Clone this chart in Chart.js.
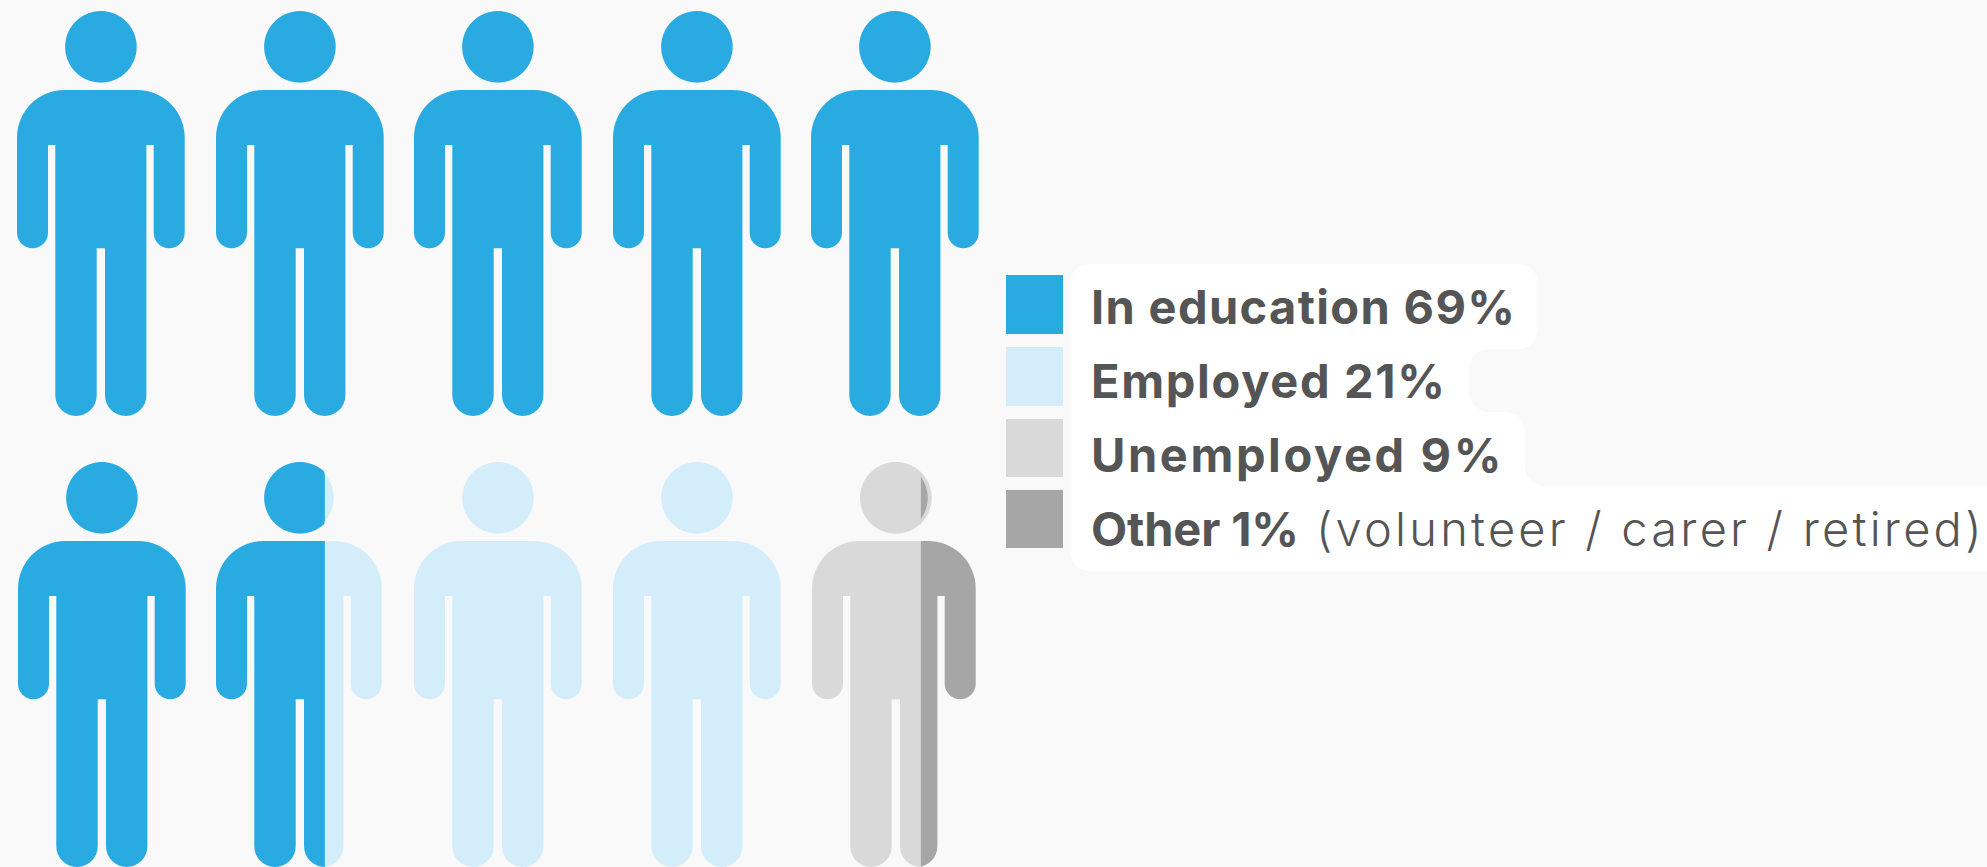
<!DOCTYPE html>
<html>
<head>
<meta charset="utf-8">
<title>What young people are doing now</title>
<script src="https://cdn.jsdelivr.net/npm/chart.js@4"></script>
<style>
  html, body { margin: 0; padding: 0; width: 1987px; height: 867px; overflow: hidden; background: #f9f9f9; }
  canvas { position: absolute; }
  svg { position: absolute; left: 0; top: 0; }
  text { font-family: Inter, sans-serif; font-size: 47px; fill: #555555; }
</style>
</head>
<body>
<svg id="legend" width="1987" height="867"></svg>
<script>
// one entry per figure, each figure stands for 10%
let education  = [1, 1, 1, 1, 1, 1, 0.9, 0, 0, 0]
let employed   = [0, 0, 0, 0, 0, 0, 0.1, 1, 1, 0]
let unemployed = [0, 0, 0, 0, 0, 0, 0, 0, 0, 0.9]
let other      = [0, 0, 0, 0, 0, 0, 0, 0, 0, 0.1]

let seriesNames = ["In education", "Employed", "Unemployed", "Other"]
let colours = ["#29abe2", "#d3eefa", "#d9d9d9", "#a6a6a6"]

// left edge of each figure and top of each row
let figureLeft = [17, 216, 414, 613, 811, 18, 216, 414, 613, 812]
let rowTop = [10, 461]

// the part right of the split sits slightly left on the two split figures
let overlayShift = [0, 0, 0, 0, 0, 0, -2, 0, 0, -4]

const pad = 6
const canvasW = 180
const canvasH = 407
const dpr = 2
const xMin = 0.725   // the icon only takes the right hand end of its 0-1 axis

function figurePath(ctx, ox, oy) {
    // head
    ctx.moveTo(ox + 83.9 + 35.8, oy + 35.8)
    ctx.arc(ox + 83.9, oy + 35.8, 35.8, 0, Math.PI * 2)
    ctx.closePath()
    // body, clockwise from the left shoulder
    ctx.moveTo(ox, oy + 126.5)
    ctx.arc(ox + 47.5, oy + 126.5, 47.5, Math.PI, Math.PI * 1.5)
    ctx.lineTo(ox + 120.2, oy + 79)
    ctx.arc(ox + 120.2, oy + 126.5, 47.5, Math.PI * 1.5, 0)
    ctx.lineTo(ox + 167.7, oy + 221.8)
    ctx.arc(ox + 152.2, oy + 221.8, 15.5, 0, Math.PI)
    ctx.lineTo(ox + 136.7, oy + 134)
    ctx.lineTo(ox + 129.4, oy + 134)
    ctx.lineTo(ox + 129.4, oy + 384.3)
    ctx.arc(ox + 108.7, oy + 384.3, 20.7, 0, Math.PI)
    ctx.lineTo(ox + 88, oy + 237.3)
    ctx.lineTo(ox + 79.7, oy + 237.3)
    ctx.lineTo(ox + 79.7, oy + 384.3)
    ctx.arc(ox + 59, oy + 384.3, 20.7, 0, Math.PI)
    ctx.lineTo(ox + 38.3, oy + 134)
    ctx.lineTo(ox + 31, oy + 134)
    ctx.lineTo(ox + 31, oy + 221.8)
    ctx.arc(ox + 15.5, oy + 221.8, 15.5, 0, Math.PI)
    ctx.closePath()
}

// keeps the bars only where the figure is, using a mask canvas so the edges stay smooth
const figureMask = {
    id: 'figureMask',
    afterDatasetsDraw(chart, args, opts) {
        let ctx = chart.ctx
        let mask = document.createElement('canvas')
        mask.width = canvasW * dpr
        mask.height = canvasH * dpr
        let m = mask.getContext('2d')
        m.scale(dpr, dpr)
        let split = chart.scales.x.getPixelForValue(opts.split)

        m.save()
        m.beginPath()
        m.rect(0, 0, split, canvasH)
        m.clip()
        m.beginPath()
        figurePath(m, pad, 1)
        m.fill()
        m.restore()

        m.save()
        m.beginPath()
        m.rect(split, 0, canvasW - split, canvasH)
        m.clip()
        m.beginPath()
        figurePath(m, pad + opts.shift, 1)
        m.fill()
        m.restore()

        ctx.save()
        ctx.globalCompositeOperation = 'destination-in'
        ctx.drawImage(mask, 0, 0, canvasW, canvasH)
        if (opts.headBacking) {
            ctx.globalCompositeOperation = 'destination-over'
            ctx.fillStyle = opts.headBacking
            ctx.beginPath()
            ctx.arc(pad + 83.9, 1 + 35.8, 35.8, 0, Math.PI * 2)
            ctx.fill()
        }
        ctx.restore()
    }
}

let allSeries = [education, employed, unemployed, other]

figureLeft.forEach((left, i) => {
    let canvas = document.createElement('canvas')
    canvas.style.left = (left - pad) + 'px'
    canvas.style.top = rowTop[i < 5 ? 0 : 1] + 'px'
    canvas.width = canvasW
    canvas.height = canvasH
    document.body.appendChild(canvas)

    let firstPart = Math.max(education[i], employed[i], unemployed[i], other[i])

    new Chart(canvas, {
        type: 'bar',
        data: {
            labels: ['Person ' + (i + 1)],
            datasets: allSeries.map((values, s) => ({
                label: seriesNames[s],
                data: [values[i]],
                backgroundColor: colours[s],
                borderWidth: 0,
                barPercentage: 1,
                categoryPercentage: 1
            }))
        },
        options: {
            indexAxis: 'y',
            responsive: false,
            animation: false,
            devicePixelRatio: dpr,
            layout: { padding: 0 },
            scales: {
                x: { stacked: true, display: false, min: xMin, max: 1 },
                y: { stacked: true, display: false }
            },
            plugins: {
                legend: { display: false },
                tooltip: { enabled: false },
                figureMask: { split: firstPart, shift: overlayShift[i], headBacking: i == 9 ? colours[2] : null }
            }
        },
        plugins: [figureMask]
    })
})

// legend with its white backing
let legendTexts = ["In education 69%", "Employed 21%", "Unemployed 9%", "Other 1%"]
let legendNote = "(volunteer / carer / retired)"
let swatchTop = [275, 347, 419, 490]
let swatchHeight = [59, 59, 58, 58]
let textBaseline = [324, 397.7, 472, 545.7]
let textEnd = [1515, 1445, 1501.4, 1299]

let svg = document.getElementById('legend')
const NS = 'http://www.w3.org/2000/svg'

function addSvg(tag, attrs, content) {
    let el = document.createElementNS(NS, tag)
    for (let k in attrs) el.setAttribute(k, attrs[k])
    if (content) el.textContent = content
    svg.appendChild(el)
}

addSvg('path', {
    fill: '#ffffff',
    d: 'M1090 264 H1518 A20 20 0 0 1 1538 284 V329 A20 20 0 0 1 1518 349 H1489 A20 20 0 0 0 1469 369 V392 ' +
       'A20 20 0 0 0 1489 412 H1505 A20 20 0 0 1 1525 432 V466 A20 20 0 0 0 1545 486 H1987 V571 H1090 ' +
       'A20 20 0 0 1 1070 551 V284 A20 20 0 0 1 1090 264 Z'
})

legendTexts.forEach((t, i) => {
    addSvg('rect', { x: 1006, y: swatchTop[i], width: 57, height: swatchHeight[i], fill: colours[i] })
    addSvg('text', {
        x: 1091, y: textBaseline[i], 'font-weight': 700,
        textLength: textEnd[i] - 1091, lengthAdjust: 'spacing'
    }, t)
})
addSvg('text', {
    x: 1316, y: textBaseline[3], 'font-weight': 300,
    textLength: 1981.5 - 1316, lengthAdjust: 'spacing'
}, legendNote)
</script>
</body>
</html>
